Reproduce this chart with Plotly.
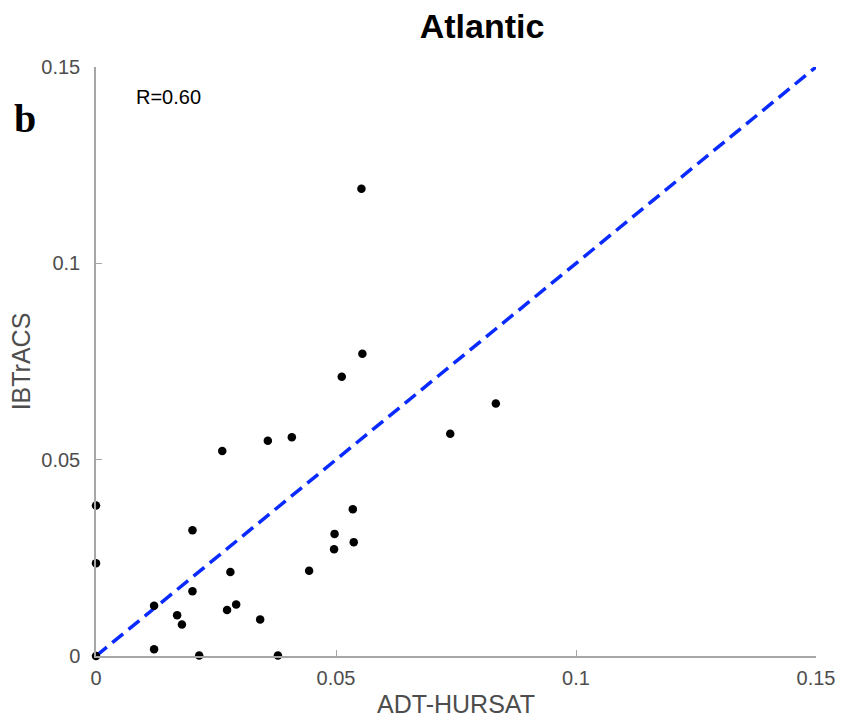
import plotly.graph_objects as go

# Data
adt_hursat = [0.0, 0.0, 0.0, 0.0263, 0.0358, 0.0408, 0.0201, 0.0535, 0.0497, 0.0496,
              0.0537, 0.0444, 0.0280, 0.0201, 0.0121, 0.0169, 0.0179, 0.0273, 0.0292,
              0.0342, 0.0121, 0.0215, 0.0379, 0.0553, 0.0555, 0.0512, 0.0738, 0.0833]
ibtracs = [0.0383, 0.0236, 0.0, 0.0522, 0.0548, 0.0557, 0.0320, 0.0374, 0.0311, 0.0272,
           0.0290, 0.0217, 0.0214, 0.0165, 0.0128, 0.0104, 0.0080, 0.0117, 0.0131,
           0.0093, 0.0017, 0.0001, 0.0001, 0.1190, 0.0770, 0.0711, 0.0566, 0.0643]
one_to_one = [0.0, 0.15]
tick_vals = [0, 0.05, 0.1, 0.15]
tick_text = ["0", "0.05", "0.1", "0.15"]

FONT = "Liberation Sans, Arial, Helvetica"
fig = go.Figure()
fig.add_trace(go.Scatter(x=one_to_one, y=one_to_one, mode="lines",
                         line=dict(color="#0a2bff", width=3.5, dash="14px,7px"),
                         hoverinfo="skip", cliponaxis=False))
fig.add_trace(go.Scatter(x=adt_hursat, y=ibtracs, mode="markers",
                         marker=dict(color="black", size=8.5), cliponaxis=False))

axis_common = dict(range=[0, 0.15], tickvals=tick_vals, ticktext=tick_text,
                   showgrid=False, zeroline=False, showline=True, automargin=False,
                   linecolor="#a6a6a6", linewidth=1.5, ticks="inside", ticklen=6,
                   tickcolor="#a6a6a6", tickfont=dict(family=FONT, size=20, color="#4d4d4d"))

fig.update_layout(
    width=841, height=719,
    margin=dict(l=96, r=25, t=67, b=63),
    paper_bgcolor="white", plot_bgcolor="white",
    showlegend=False,
    title=dict(text="<b>Atlantic</b>", x=482/841, xanchor="center", y=1-26/719, yanchor="middle",
               font=dict(family=FONT, size=34, color="black")),
    xaxis=dict(**axis_common, ticklabelstandoff=3,
               title=dict(text="ADT-HURSAT", standoff=8,
                          font=dict(family=FONT, size=25, color="#4d4d4d"))),
    yaxis=dict(**axis_common, ticklabelstandoff=10,
               title=dict(text="IBTrACS", standoff=4,
                          font=dict(family=FONT, size=25, color="#4d4d4d"))),
)
fig.add_annotation(text="R=0.60", xref="paper", yref="paper", x=(168-96)/720, y=(656-97)/589,
                   showarrow=False, xanchor="center", yanchor="middle",
                   font=dict(family=FONT, size=20, color="black"))
fig.add_annotation(text="<b>b</b>", xref="paper", yref="paper", x=(25-96)/720, y=(656-118)/589,
                   showarrow=False, xanchor="center", yanchor="middle",
                   font=dict(family="Liberation Serif, Times New Roman", size=40, color="black"))

fig.write_html("out.html")
